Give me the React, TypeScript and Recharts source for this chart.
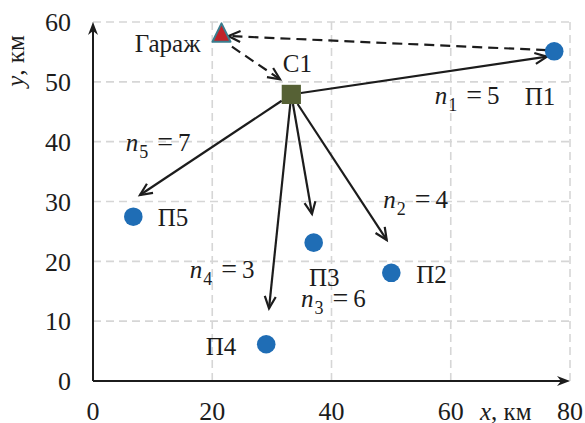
import React from 'react';
import { ScatterChart, Scatter, XAxis, YAxis, CartesianGrid, ReferenceLine } from 'recharts';

// ---- data ----
const xTicks = [0, 20, 40, 60, 80];
const yTicks = [0, 10, 20, 30, 40, 50, 60];

const garage = [{ x: 21.55, y: 58.15, name: 'Гараж' }];
const depot = [{ x: 33.26, y: 47.9, name: 'С1' }];

const pointNames = ['П1', 'П2', 'П3', 'П4', 'П5'];
const pointX = [77.35, 50.03, 37.01, 29.05, 6.76];
const pointY = [55.1, 18.08, 23.12, 6.15, 27.46];
const trips = [5, 4, 6, 3, 7];

// arrow tips from the depot to each point
const arrowTipX = [76.14, 49.26, 36.73, 29.52, 7.88];
const arrowTipY = [54.2, 23.57, 27.91, 12.15, 31.09];

// empty return: П1 -> Гараж, then Гараж -> С1
const returnFrom = [{ x: 76.0, y: 55.3 }, { x: 23.3, y: 55.87 }];
const returnTo = [{ x: 22.7, y: 57.66 }, { x: 31.36, y: 50.43 }];

const points = pointNames.map((name, i) => ({ name, x: pointX[i], y: pointY[i], n: trips[i] }));

// ---- styling ----
const FONT = 'Liberation Serif, Times New Roman, DejaVu Serif, serif';
const INK = '#1c1c1c';
const TICK_FS = 26;
const LBL_FS = 25;
const SUB_FS = 18;
const fontStyle = (size: number): React.CSSProperties => ({ fontFamily: FONT, fontSize: size });

// label offsets in pixels relative to each marker: [dx, dy] (text start, baseline)
const NAME_OFFSET: Record<string, [number, number]> = {
  'П1': [-29.5, 53.4],
  'П2': [24.9, 10.6],
  'П3': [-4.6, 43.8],
  'П4': [-60.5, 11],
  'П5': [24.5, 9.7],
};
const N_OFFSET: Record<string, [number, number]> = {
  'П1': [-119.5, 52.4],
  'П2': [-8, -64.4],
  'П3': [-12.6, 64.6],
  'П4': [-76.5, -66],
  'П5': [-7.5, -65.3],
};

function arrowHead(x1: number, y1: number, x2: number, y2: number, L: number, W: number) {
  const dx = x2 - x1;
  const dy = y2 - y1;
  const len = Math.hypot(dx, dy) || 1;
  const ux = dx / len;
  const uy = dy / len;
  const bx = x2 - ux * L;
  const by = y2 - uy * L;
  return {
    ux,
    uy,
    a: [bx - uy * W, by + ux * W],
    b: [bx + uy * W, by - ux * W],
  };
}

const makeArrow = (opts: { dashed?: boolean; fromSquare?: number; axis?: boolean }) => (props: any) => {
  let { x1, y1, x2, y2 } = props;
  if (x1 == null) return <g />;
  const h = arrowHead(x1, y1, x2, y2, opts.axis ? 13 : 12, opts.axis ? 5 : 5.5);
  if (opts.fromSquare) {
    const t = opts.fromSquare / Math.max(Math.abs(h.ux), Math.abs(h.uy));
    x1 = x1 + h.ux * t;
    y1 = y1 + h.uy * t;
  }
  if (opts.axis) {
    const nx = x2 - h.ux * 9;
    const ny = y2 - h.uy * 9;
    return (
      <g>
        <line x1={x1} y1={y1} x2={nx} y2={ny} stroke={INK} strokeWidth={2} />
        <polygon
          points={`${x2},${y2} ${h.a[0]},${h.a[1]} ${nx},${ny} ${h.b[0]},${h.b[1]}`}
          fill={INK}
        />
      </g>
    );
  }
  return (
    <g>
      <line
        x1={x1}
        y1={y1}
        x2={x2}
        y2={y2}
        stroke={INK}
        strokeWidth={2.2}
        strokeDasharray={opts.dashed ? '10 6' : undefined}
      />
      <polyline
        points={`${h.a[0]},${h.a[1]} ${x2},${y2} ${h.b[0]},${h.b[1]}`}
        fill="none"
        stroke={INK}
        strokeWidth={2.2}
      />
    </g>
  );
};

const NLabel = ({ x, y, sub, val }: { x: number; y: number; sub: number; val: number }) => (
  <text x={x} y={y} style={fontStyle(LBL_FS)} fill={INK}>
    <tspan fontStyle="italic">n</tspan>
    <tspan style={{ fontSize: SUB_FS }} dx={1} dy={7}>{sub}</tspan>
    <tspan dx={9} dy={-7} style={{ fontSize: 28 }}>=</tspan>
    <tspan dx={5}>{val}</tspan>
  </text>
);

const PointShape = (props: any) => {
  const { cx, cy, payload } = props;
  if (cx == null) return <g />;
  const name = payload.name as string;
  const idx = pointNames.indexOf(name);
  const no = NAME_OFFSET[name];
  const nn = N_OFFSET[name];
  return (
    <g>
      <circle cx={cx} cy={cy} r={9.3} fill="#1f6db5" />
      <text x={cx + no[0]} y={cy + no[1]} style={fontStyle(LBL_FS)} fill={INK}>
        {name}
      </text>
      <NLabel x={cx + nn[0]} y={cy + nn[1]} sub={idx + 1} val={payload.n} />
    </g>
  );
};

const GarageShape = (props: any) => {
  const { cx, cy, payload } = props;
  if (cx == null) return <g />;
  return (
    <g>
      <polygon
        points={`${cx},${cy - 9.7} ${cx - 9},${cy + 8.7} ${cx + 9},${cy + 8.7}`}
        fill="#c0232a"
        stroke="#3b7d8e"
        strokeWidth={2}
        strokeLinejoin="round"
      />
      <text x={cx - 21} y={cy + 18.5} textAnchor="end" style={fontStyle(LBL_FS)} fill={INK}>
        {payload.name}
      </text>
    </g>
  );
};

const DepotShape = (props: any) => {
  const { cx, cy } = props;
  if (cx == null) return <g />;
  return (
    <g>
      <rect x={cx - 9.6} y={cy - 9.6} width={19.2} height={19.2} fill="#566135" />
      <text x={cx - 8.5} y={cy - 22} style={fontStyle(LBL_FS)} fill={INK}>
        C1
      </text>
    </g>
  );
};

const XLabel = (props: any) => {
  const vb = props.viewBox || {};
  return (
    <text x={vb.x + vb.width - 90} y={vb.y + vb.height - 3} style={fontStyle(LBL_FS)} fill={INK}>
      <tspan fontStyle="italic">x</tspan>
      <tspan>, км</tspan>
    </text>
  );
};

const YLabel = (props: any) => {
  const vb = props.viewBox || {};
  const x = vb.x + 24;
  const y = vb.y + 39;
  return (
    <text
      x={x}
      y={y}
      transform={`rotate(-90, ${x}, ${y})`}
      textAnchor="middle"
      style={fontStyle(LBL_FS)}
      fill={INK}
    >
      <tspan fontStyle="italic">y</tspan>
      <tspan>, км</tspan>
    </text>
  );
};

export default function App() {
  return (
    <div style={{ position: 'absolute', left: 0, top: 0, width: 585, height: 423, background: '#fff' }}>
      <ScatterChart width={585} height={423} margin={{ top: 22, right: 15, bottom: 0, left: 0 }}>
        <CartesianGrid stroke="#d6d6d6" strokeWidth={1.6} strokeDasharray="8 5" />
        <XAxis
          type="number"
          dataKey="x"
          domain={[0, 80]}
          ticks={xTicks}
          axisLine={false}
          tickLine={false}
          tickSize={0}
          tickMargin={21}
          height={42}
          interval={0}
          tick={{ style: fontStyle(TICK_FS), fill: INK }}
          label={<XLabel />}
        />
        <YAxis
          type="number"
          dataKey="y"
          domain={[0, 60]}
          ticks={yTicks}
          axisLine={false}
          tickLine={false}
          tickSize={0}
          tickMargin={22}
          width={93}
          interval={0}
          tick={{ style: fontStyle(TICK_FS), fill: INK }}
          label={<YLabel />}
        />
        {/* axes with arrows */}
        <ReferenceLine
          segment={[{ x: 0, y: 0 }, { x: 0, y: 60 }]}
          ifOverflow="visible"
          shape={makeArrow({ axis: true })}
        />
        <ReferenceLine
          segment={[{ x: 0, y: 0 }, { x: 80, y: 0 }]}
          ifOverflow="visible"
          shape={makeArrow({ axis: true })}
        />
        {/* loaded trips from С1 */}
        {pointNames.map((n, i) => (
          <ReferenceLine
            key={n}
            segment={[{ x: depot[0].x, y: depot[0].y }, { x: arrowTipX[i], y: arrowTipY[i] }]}
            ifOverflow="visible"
            shape={makeArrow({ fromSquare: 9.6 })}
          />
        ))}
        {/* empty return */}
        {returnFrom.map((p, i) => (
          <ReferenceLine
            key={'r' + i}
            segment={[p, returnTo[i]]}
            ifOverflow="visible"
            shape={makeArrow({ dashed: true })}
          />
        ))}
        <Scatter data={points} isAnimationActive={false} shape={PointShape} />
        <Scatter data={garage} isAnimationActive={false} shape={GarageShape} />
        <Scatter data={depot} isAnimationActive={false} shape={DepotShape} />
      </ScatterChart>
    </div>
  );
}
